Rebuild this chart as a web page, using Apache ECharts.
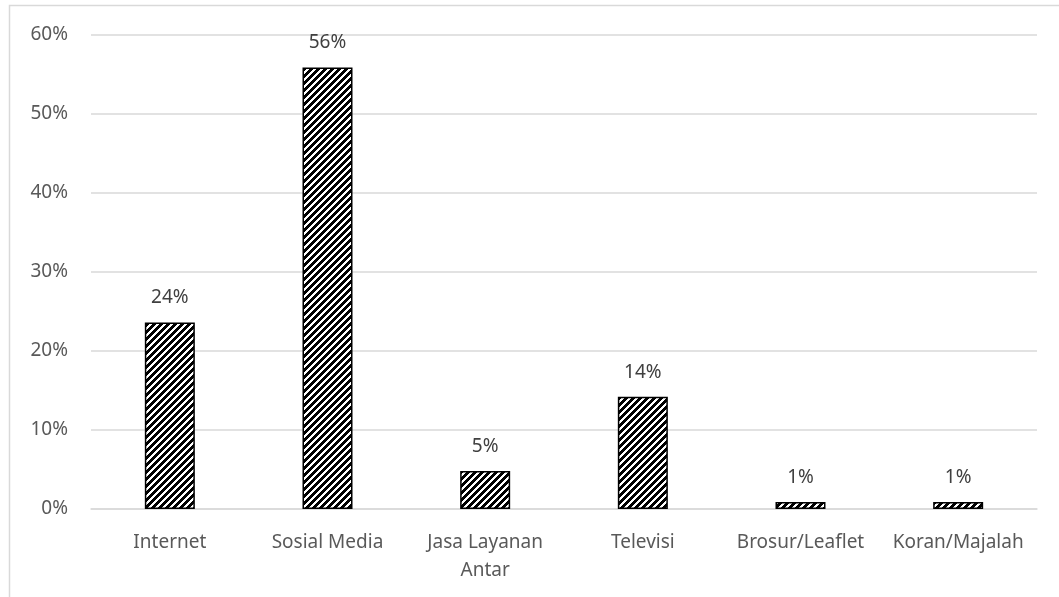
<!DOCTYPE html>
<html>
<head>
<meta charset="utf-8">
<style>
  html, body { margin: 0; padding: 0; background: #fff; }
  #chart { width: 1059px; height: 597px; }
</style>
<script src="https://cdn.jsdelivr.net/npm/echarts@6/dist/echarts.min.js"></script>
</head>
<body>
<div id="chart"></div>
<script>
// Media sources (share of respondents, %)
const categories = ['Internet', 'Sosial Media', 'Jasa Layanan\nAntar', 'Televisi', 'Brosur/Leaflet', 'Koran/Majalah'];
const shares = [23.6, 55.9, 4.8, 14.2, 0.9, 0.9];
const yTicks = [0, 10, 20, 30, 40, 50, 60];

// Wide upward diagonal hatch tile
function hatchTile() {
  const size = 7;
  const c = document.createElement('canvas');
  c.width = size; c.height = size;
  const ctx = c.getContext('2d');
  ctx.fillStyle = '#fff';
  ctx.fillRect(0, 0, size, size);
  ctx.fillStyle = '#000';
  for (let y = 0; y < size; y++) {
    for (let x = 0; x < size; x++) {
      if ((x + y) % size < 4) ctx.fillRect(x, y, 1, 1);
    }
  }
  return c;
}

const chart = echarts.init(document.getElementById('chart'), null, { renderer: 'canvas' });
const font = 'Noto Sans';

chart.setOption({
  backgroundColor: '#fff',
  animation: false,
  graphic: [{
    type: 'rect',
    shape: { x: 9.5, y: 5.5, width: 1200, height: 800 },
    style: { fill: 'none', stroke: '#d9d9d9', lineWidth: 1.5 },
    silent: true
  }],
  grid: { left: 91, right: 22, top: 35, bottom: 88, containLabel: false },
  xAxis: {
    type: 'category',
    data: categories,
    axisLine: { lineStyle: { color: '#d9d9d9', width: 1.5 } },
    axisTick: { show: false },
    axisLabel: {
      color: '#595959', fontFamily: font, fontSize: 19,
      margin: 20, lineHeight: 28, interval: 0
    }
  },
  yAxis: {
    type: 'value',
    min: yTicks[0],
    max: yTicks[yTicks.length - 1],
    interval: 10,
    axisLine: { show: false },
    axisTick: { show: false },
    splitLine: { lineStyle: { color: '#d9d9d9', width: 1.5 } },
    axisLabel: {
      color: '#595959', fontFamily: font, fontSize: 19, margin: 23,
      formatter: v => v + '%'
    }
  },
  series: [{
    type: 'bar',
    data: shares,
    barWidth: 50,
    itemStyle: {
      color: { image: hatchTile(), repeat: 'repeat' },
      borderColor: '#000',
      borderWidth: 1.5
    },
    label: {
      show: true,
      position: 'top',
      distance: 15,
      color: '#404040',
      fontFamily: font,
      fontSize: 19,
      formatter: p => Math.round(p.value) + '%'
    }
  }]
});
</script>
</body>
</html>
